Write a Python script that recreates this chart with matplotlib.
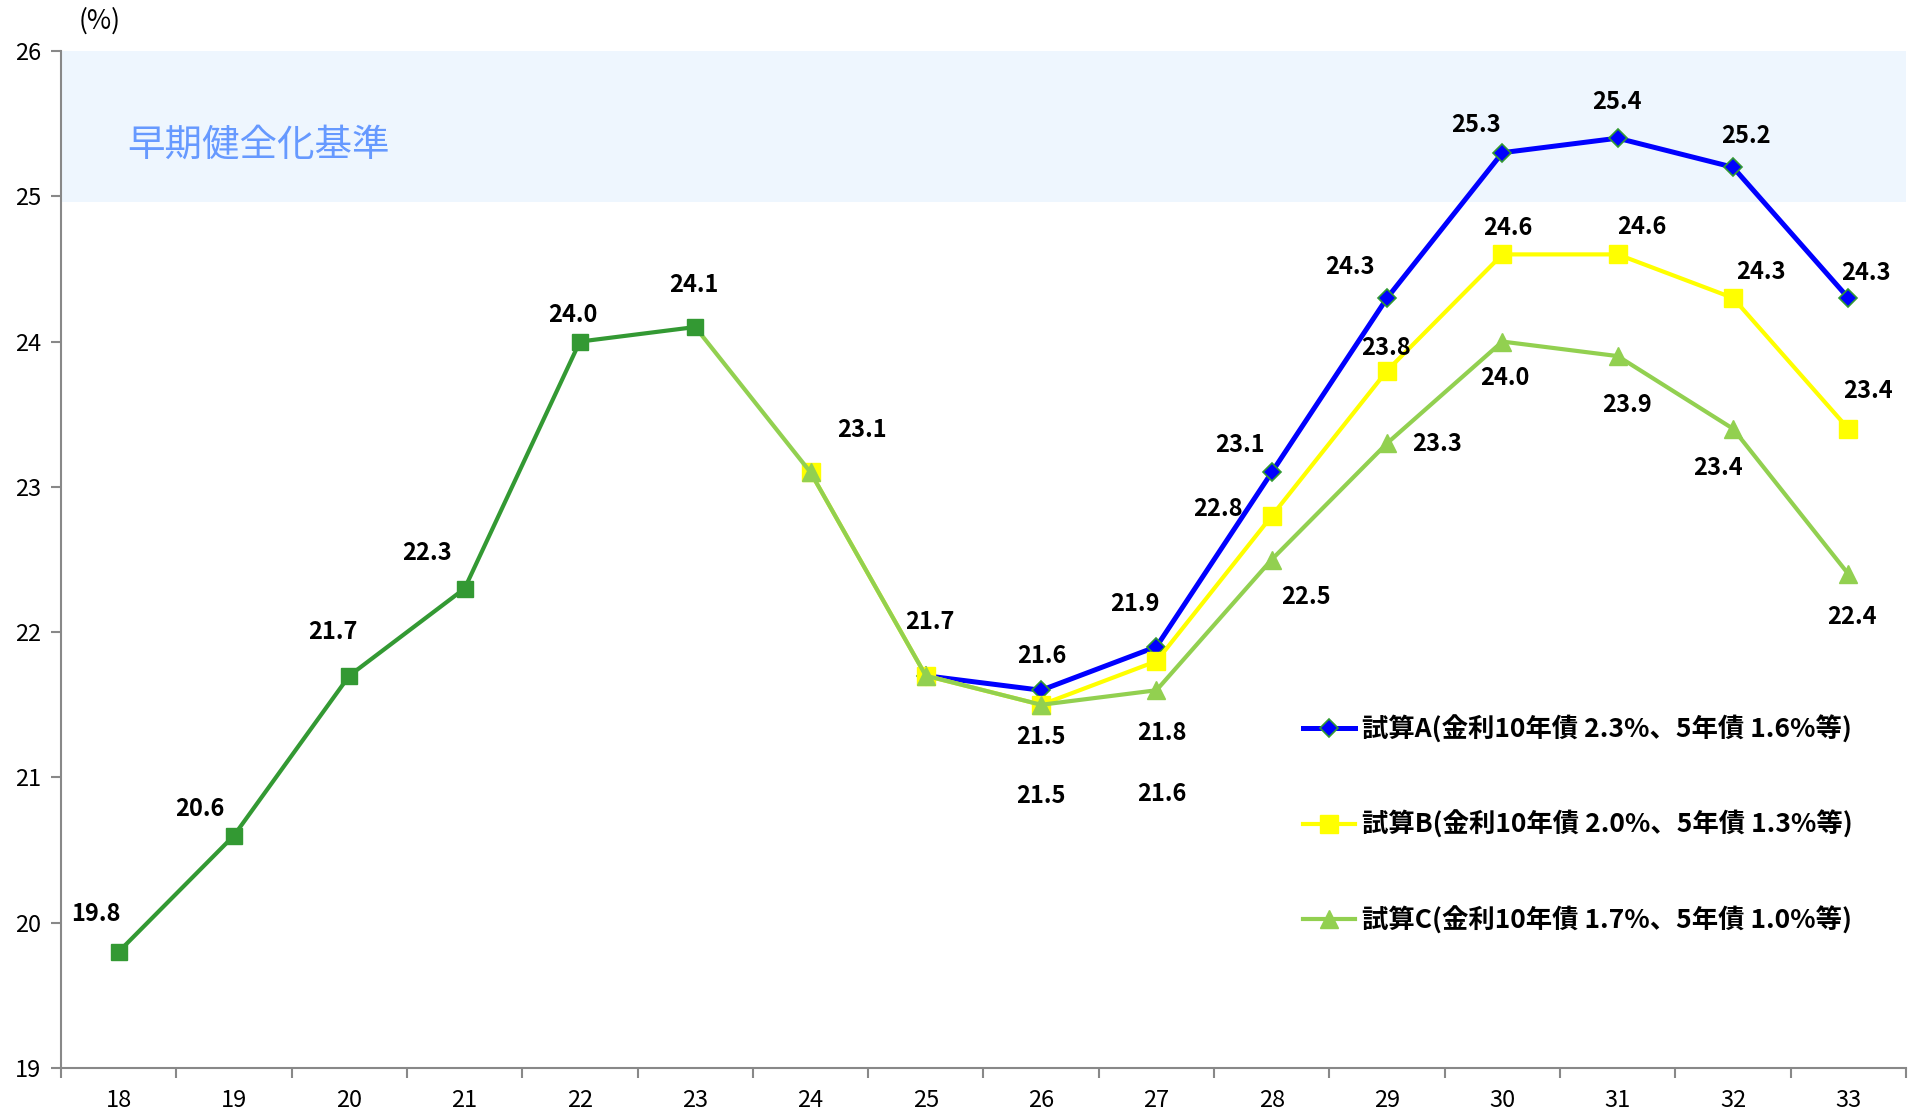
import numpy as np
import matplotlib
matplotlib.use("Agg")
import matplotlib.pyplot as plt

plt.rcParams['font.family'] = ['Noto Sans CJK JP', 'DejaVu Sans']

# =========================
# Data
# =========================
years = ["18", "19", "20", "21", "22", "23", "24", "25", "26", "27", "28", "29", "30", "31", "32", "33"]

actual_vals = [19.8, 20.6, 21.7, 22.3, 24.0, 24.1]                       # 18-23
case_a_vals = [21.7, 21.6, 21.9, 23.1, 24.3, 25.3, 25.4, 25.2, 24.3]     # 25-33
case_b_vals = [23.1, 21.7, 21.5, 21.8, 22.8, 23.8, 24.6, 24.6, 24.3, 23.4]  # 24-33
case_c_vals = [24.1, 23.1, 21.7, 21.5, 21.6, 22.5, 23.3, 24.0, 23.9, 23.4, 22.4]  # 23-33

case_a_label = "試算A(金利10年債 2.3%、5年債 1.6%等)"
case_b_label = "試算B(金利10年債 2.0%、5年債 1.3%等)"
case_c_label = "試算C(金利10年債 1.7%、5年債 1.0%等)"
band_label = "早期健全化基準"
band_lo, band_hi = 24.96, 26

# label offsets (pixels, dx, dy) -- layout only
off_actual = [(-23, 38), (-34, 27), (-16, 44), (-38, 36), (-7, 27), (-1, 42)]
off_a = [None, (1, 34), (-22, 43), (-32, 27), (-37, 31), (-26, 28), (-1, 36), (13, 31), (18, 25)]
off_b = [(51, 42), None, (0, -32), (5, -72), (-54, 7), (-1, 23), (5, 26), (24, 27), (28, 26), (20, 38)]
off_c = [None, None, (4, 54), (0, -91), (5, -104), (34, -37), (50, -1), (2, -36), (9, -49), (-15, -39), (4, -43)]

x = np.arange(len(years))
x_actual = x[:6]
x_a = x[7:]
x_b = x[6:]
x_c = x[5:]

# =========================
# Figure
# =========================
W, H = 1921, 1115
fig = plt.figure(figsize=(W / 100, H / 100), dpi=100)
ax = fig.add_axes([61 / W, 47 / H, (1906 - 61) / W, (1068 - 51) / H])

ax.set_xlim(-0.5, len(years) - 0.5)
ax.set_ylim(19, 26)

# early soundness band
ax.axhspan(band_lo, band_hi, color="#EEF6FE", zorder=0, lw=0)
ax.text((127 - 61) / (1906 - 61), (1068 - 145) / (1068 - 51), band_label,
        transform=ax.transAxes, ha="left", va="center",
        fontsize=27, color="#6699FF")

blue = "#0000FF"
yellow = "#FFFF00"
lgreen = "#92D050"
dgreen = "#339933"

ax.plot(x_a, case_a_vals, color=blue, lw=3.6, marker="D", ms=9,
        mfc=blue, mec=dgreen, mew=1.2, zorder=3, label=case_a_label)
ax.plot(x_b, case_b_vals, color=yellow, lw=3.0, marker="s", ms=13,
        mfc=yellow, mec=yellow, zorder=4, label=case_b_label)
ax.plot(x_c, case_c_vals, color=lgreen, lw=3.0, marker="^", ms=13,
        mfc=lgreen, mec=lgreen, markevery=list(range(1, len(case_c_vals))),
        zorder=5, label=case_c_label)
ax.plot(x_actual, actual_vals, color=dgreen, lw=3.0, marker="s", ms=12,
        mfc=dgreen, mec=dgreen, zorder=6)

def put_labels(xs, vals, offs):
    for xi, v, o in zip(xs, vals, offs):
        if o is None:
            continue
        ax.annotate(f"{v:.1f}", (xi, v), xytext=(o[0] * 0.72, o[1] * 0.72),
                    textcoords="offset points", ha="center", va="center",
                    fontsize=17, fontweight="bold", color="black", zorder=10)

put_labels(x_actual, actual_vals, off_actual)
put_labels(x_a, case_a_vals, off_a)
put_labels(x_b, case_b_vals, off_b)
put_labels(x_c, case_c_vals, off_c)

# axes styling
for s in ["top", "right"]:
    ax.spines[s].set_visible(False)
for s in ["left", "bottom"]:
    ax.spines[s].set_color("#888888")
    ax.spines[s].set_linewidth(1.5)

ax.set_yticks(np.arange(19, 27, 1))
ax.tick_params(axis="y", direction="out", length=7, width=1.5, color="#888888",
               labelsize=17, pad=7)
ax.set_xticks(x)
ax.set_xticklabels(years)
ax.set_xticks(np.arange(-0.5, len(years), 1), minor=True)
ax.tick_params(axis="x", which="major", length=0, labelsize=17, pad=15)
ax.tick_params(axis="x", which="minor", direction="out", length=7, width=1.5,
               color="#888888")

fig.text(100 / W, 1 - 21 / H, "(%)", ha="center", va="center", fontsize=19)

leg = ax.legend(loc="upper left", bbox_to_anchor=((1292 - 61) / (1906 - 61), (1068 - 705) / (1068 - 51)),
                frameon=False, fontsize=19, labelspacing=2.55, handlelength=2.0,
                handletextpad=0.25, borderaxespad=0)
for t in leg.get_texts():
    t.set_fontweight("bold")

fig.savefig("out.png", dpi=100)
